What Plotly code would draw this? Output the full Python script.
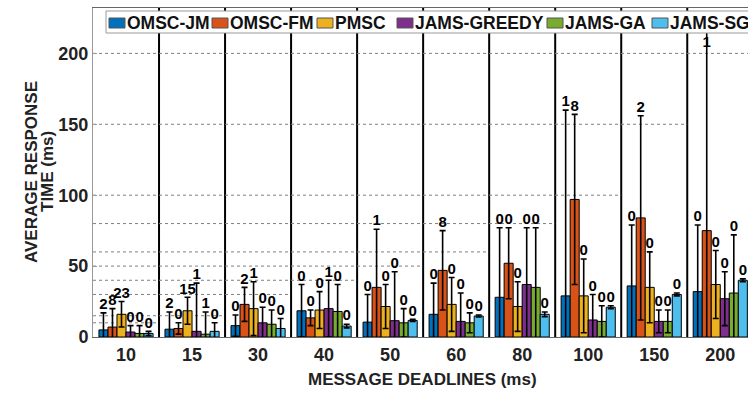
import plotly.graph_objects as go

categories = ["10", "15", "30", "40", "50", "60", "80", "100", "150", "200"]
deadlines = [10, 15, 30, 40, 50, 60, 80, 100, 150, 200]
series_names = ["OMSC-JM", "OMSC-FM", "PMSC", "JAMS-GREEDY", "JAMS-GA", "JAMS-SG"]
colors = ["#0072BD", "#D95319", "#EDB120", "#7E2F8E", "#77AC30", "#4DBEEE"]

# mean response time (bar heights)
omsc_jm = [5, 5.5, 8, 18.5, 10.5, 16, 28, 29, 36, 32]
omsc_fm = [7, 6, 23, 13.5, 35, 47, 52, 97, 84, 75]
pmsc = [16, 18.5, 20, 19, 21.5, 23, 21.5, 29, 35, 37]
jams_greedy = [3.5, 4, 10, 20, 11.5, 11, 37, 12, 11, 27]
jams_ga = [2.5, 2, 9, 18, 10, 10, 35, 11, 11, 31]
jams_sg = [2.5, 4, 6, 7.7, 11.7, 14.8, 16, 21, 30, 40]

# upper end of the error bars
omsc_jm_top = [17, 17.6, 15.5, 37, 30, 38, 77, 160, 79, 79]
omsc_fm_top = [20, 10, 35, 19, 76, 75, 77, 157, 156, 222]
pmsc_top = [25, 28, 39, 32, 37, 42, 39, 55, 60, 61]
jams_greedy_top = [8, 38, 21, 40, 46, 31, 77, 30, 19, 46]
jams_ga_top = [8, 17.6, 19, 37, 20, 17, 77, 22, 19, 72]
jams_sg_top = [4, 10, 13, 9, 12.5, 15.5, 17.6, 22, 31, 41]

# deadline-miss counts printed above error bars
omsc_jm_lbl = [2, 2, 0, 0, 0, 0, 0, 1, 0, 0]
omsc_fm_lbl = [8, 0, 2, 0, 1, 8, 0, 8, 2, 1]
pmsc_lbl = [23, 15, 1, 0, 0, 0, 0, 0, 0, 0]
jams_greedy_lbl = [0, 1, 0, 1, 0, 0, 0, 0, 0, 0]
jams_ga_lbl = [0, 1, 0, 0, 0, 0, 0, 0, 0, 0]
jams_sg_lbl = [0, 0, 0, 0, 0, 0, 0, 0, 0, 0]

values = [omsc_jm, omsc_fm, pmsc, jams_greedy, jams_ga, jams_sg]
tops = [omsc_jm_top, omsc_fm_top, pmsc_top, jams_greedy_top, jams_ga_top, jams_sg_top]
labels = [omsc_jm_lbl, omsc_fm_lbl, pmsc_lbl, jams_greedy_lbl, jams_ga_lbl, jams_sg_lbl]

FONT = "Liberation Sans"
W, H = 748, 393
ML, MT, MB = 93, 8, 56
PW, PH = W - ML, H - MT - MB
YMAX = 232
BARGAP = 0.18
n = len(series_names)
bw = (1 - BARGAP) / n
xs = list(range(len(categories)))


def px_x(x):
    return (x - ML) / PW


def px_y(y):
    return (H - MB - y) / PH


fig = go.Figure()
for j in range(n):
    err = [t - v for t, v in zip(tops[j], values[j])]
    fig.add_trace(go.Bar(
        x=xs, y=values[j], name=series_names[j], showlegend=False,
        marker=dict(color=colors[j], line=dict(color="black", width=1)),
        error_y=dict(type="data", array=err, symmetric=True,
                     color="black", thickness=1.6, width=3),
    ))

for j in range(n):
    tx = [i + (j - (n - 1) / 2) * bw for i in xs]
    ty = [min(t, 202) for t in tops[j]]
    fig.add_trace(go.Scatter(
        x=tx, y=ty, mode="text", text=[str(v) for v in labels[j]],
        textposition="top center", showlegend=False, hoverinfo="skip",
        textfont=dict(family=FONT, size=15, color="black", weight="bold"),
        cliponaxis=False,
    ))

shapes = []
for i, d in enumerate(deadlines):
    shapes.append(dict(type="line", xref="x", yref="y", x0=-0.5, x1=i + 0.5,
                       y0=d, y1=d, layer="below",
                       line=dict(color="#808080", width=1, dash="3px,3px")))
for i in range(len(categories) - 1):
    shapes.append(dict(type="line", xref="x", yref="paper", x0=i + 0.5, x1=i + 0.5,
                       y0=0, y1=1, layer="below",
                       line=dict(color="black", width=2)))

annotations = []
# legend box drawn along the top of the axes (cut by the right edge as in the source)
shapes.append(dict(type="rect", xref="paper", yref="paper",
                   x0=px_x(106), x1=px_x(770), y0=px_y(33), y1=px_y(11),
                   fillcolor="white", line=dict(color="#9a9a9a", width=1), layer="above"))
legend_x = [109, 212, 317, 397, 547, 652]
for j in range(n):
    x0 = legend_x[j]
    shapes.append(dict(type="rect", xref="paper", yref="paper",
                       x0=px_x(x0), x1=px_x(x0 + 16), y0=px_y(28), y1=px_y(18),
                       fillcolor=colors[j], line=dict(color="#555", width=1),
                       layer="above"))
    annotations.append(dict(text=series_names[j], xref="paper", yref="paper",
                            x=px_x(x0 + 16), y=px_y(23), xanchor="left",
                            yanchor="middle", showarrow=False,
                            font=dict(family=FONT, size=17.5, color="#111", weight="bold")))

annotations.append(dict(text="AVERAGE RESPONSE", xref="paper", yref="paper",
                        x=px_x(31), y=px_y(172), xanchor="center", yanchor="middle",
                        textangle=-90, showarrow=False,
                        font=dict(family=FONT, size=17, color="#222", weight="bold")))
annotations.append(dict(text="TIME (ms)", xref="paper", yref="paper",
                        x=px_x(47), y=px_y(172), xanchor="center", yanchor="middle",
                        textangle=-90, showarrow=False,
                        font=dict(family=FONT, size=17, color="#222", weight="bold")))
annotations.append(dict(text="MESSAGE DEADLINES (ms)", xref="paper", yref="paper",
                        x=px_x(423), y=px_y(379), xanchor="center", yanchor="middle",
                        showarrow=False,
                        font=dict(family=FONT, size=17, color="#222", weight="bold")))

fig.update_layout(
    width=W, height=H,
    margin=dict(l=ML, r=0, t=MT, b=MB),
    paper_bgcolor="white", plot_bgcolor="white",
    barmode="group", bargap=BARGAP, bargroupgap=0,
    font=dict(family=FONT, color="black"),
    shapes=shapes, annotations=annotations,
    showlegend=False,
    xaxis=dict(range=[-0.5, 9.42], tickmode="array", tickvals=xs, ticktext=categories,
               showgrid=False, zeroline=False, showline=True, linecolor="#666",
               mirror=True, ticks="", ticklabelstandoff=1,
               tickfont=dict(family=FONT, size=18, color="#222", weight="bold")),
    yaxis=dict(range=[0, YMAX], tickvals=[0, 50, 100, 150, 200],
               showgrid=False, zeroline=False, showline=True, linecolor="#999",
               ticks="inside", ticklen=4, tickcolor="#999",
               tickfont=dict(family=FONT, size=18, color="#222", weight="bold")),
)

fig.write_html("out.html", config={"displayModeBar": False},
               post_script="document.body.style.margin='0';document.body.style.overflow='hidden';")
